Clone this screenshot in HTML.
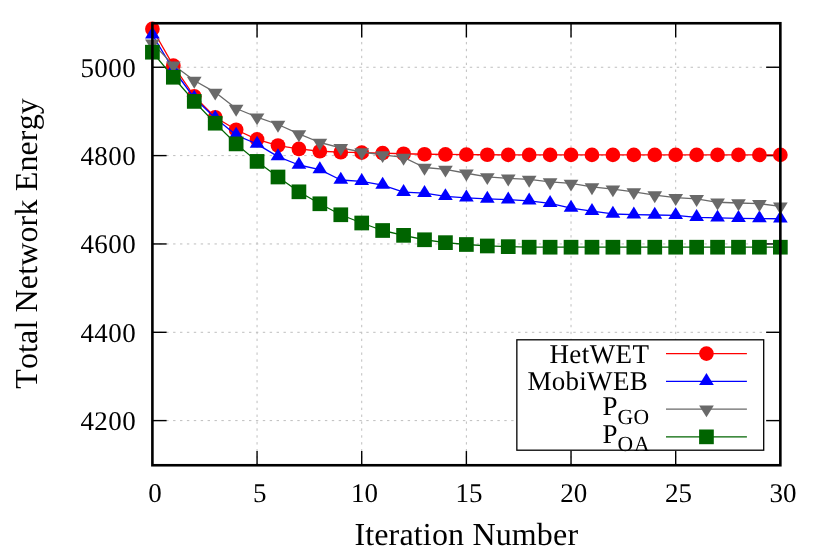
<!DOCTYPE html>
<html><head><meta charset="utf-8"><title>Total Network Energy vs Iteration Number</title>
<style>
html,body{margin:0;padding:0;background:#ffffff;}
body{width:830px;height:554px;overflow:hidden;font-family:"Liberation Serif",serif;}
svg{display:block;will-change:transform;}
text{font-kerning:none;font-variant-ligatures:none;text-rendering:geometricPrecision;}
</style></head><body>
<svg width="830" height="554" viewBox="0 0 830 554">
<rect width="830" height="554" fill="#ffffff"/>
<g stroke="#bebebe" stroke-width="1" stroke-dasharray="2.4 4.5" fill="none">
<line x1="152.4" y1="67.25" x2="780.35" y2="67.25"/>
<line x1="152.4" y1="155.6" x2="780.35" y2="155.6"/>
<line x1="152.4" y1="243.95" x2="780.35" y2="243.95"/>
<line x1="152.4" y1="332.3" x2="780.35" y2="332.3"/>
<line x1="152.4" y1="420.6" x2="780.35" y2="420.6"/>
<line x1="257.06" y1="465.25" x2="257.06" y2="23.25"/>
<line x1="361.72" y1="465.25" x2="361.72" y2="23.25"/>
<line x1="466.38" y1="465.25" x2="466.38" y2="23.25"/>
<line x1="571.03" y1="465.25" x2="571.03" y2="23.25"/>
<line x1="675.69" y1="465.25" x2="675.69" y2="23.25"/>
</g>
<g stroke="#000000" stroke-width="1.4" fill="none">
<line x1="152.4" y1="67.25" x2="166.6" y2="67.25"/>
<line x1="780.35" y1="67.25" x2="766.15" y2="67.25"/>
<line x1="152.4" y1="155.6" x2="166.6" y2="155.6"/>
<line x1="780.35" y1="155.6" x2="766.15" y2="155.6"/>
<line x1="152.4" y1="243.95" x2="166.6" y2="243.95"/>
<line x1="780.35" y1="243.95" x2="766.15" y2="243.95"/>
<line x1="152.4" y1="332.3" x2="166.6" y2="332.3"/>
<line x1="780.35" y1="332.3" x2="766.15" y2="332.3"/>
<line x1="152.4" y1="420.6" x2="166.6" y2="420.6"/>
<line x1="780.35" y1="420.6" x2="766.15" y2="420.6"/>
<line x1="257.06" y1="465.25" x2="257.06" y2="451.05"/>
<line x1="257.06" y1="23.25" x2="257.06" y2="37.45"/>
<line x1="361.72" y1="465.25" x2="361.72" y2="451.05"/>
<line x1="361.72" y1="23.25" x2="361.72" y2="37.45"/>
<line x1="466.38" y1="465.25" x2="466.38" y2="451.05"/>
<line x1="466.38" y1="23.25" x2="466.38" y2="37.45"/>
<line x1="571.03" y1="465.25" x2="571.03" y2="451.05"/>
<line x1="571.03" y1="23.25" x2="571.03" y2="37.45"/>
<line x1="675.69" y1="465.25" x2="675.69" y2="451.05"/>
<line x1="675.69" y1="23.25" x2="675.69" y2="37.45"/>
</g>
<polyline points="152.4,28.95 173.33,65.65 194.26,96.25 215.19,117.25 236.13,129.75 257.06,139.4 277.99,145.55 298.92,148.95 319.85,151.25 340.79,152.2 361.72,152.65 382.65,153.11 403.58,153.75 424.51,154.25 445.44,154.45 466.38,154.65 487.31,154.75 508.24,154.9 529.17,154.9 550.1,154.9 571.03,154.9 591.97,154.9 612.9,154.9 633.83,154.9 654.76,154.9 675.69,154.9 696.62,154.9 717.56,154.9 738.49,154.9 759.42,154.9 780.35,154.9" fill="none" stroke="#ff0000" stroke-width="1.3" stroke-linejoin="round"/>
<circle cx="152.4" cy="28.95" r="7.35" fill="#ff0000"/>
<circle cx="173.33" cy="65.65" r="7.35" fill="#ff0000"/>
<circle cx="194.26" cy="96.25" r="7.35" fill="#ff0000"/>
<circle cx="215.19" cy="117.25" r="7.35" fill="#ff0000"/>
<circle cx="236.13" cy="129.75" r="7.35" fill="#ff0000"/>
<circle cx="257.06" cy="139.4" r="7.35" fill="#ff0000"/>
<circle cx="277.99" cy="145.55" r="7.35" fill="#ff0000"/>
<circle cx="298.92" cy="148.95" r="7.35" fill="#ff0000"/>
<circle cx="319.85" cy="151.25" r="7.35" fill="#ff0000"/>
<circle cx="340.79" cy="152.2" r="7.35" fill="#ff0000"/>
<circle cx="361.72" cy="152.65" r="7.35" fill="#ff0000"/>
<circle cx="382.65" cy="153.11" r="7.35" fill="#ff0000"/>
<circle cx="403.58" cy="153.75" r="7.35" fill="#ff0000"/>
<circle cx="424.51" cy="154.25" r="7.35" fill="#ff0000"/>
<circle cx="445.44" cy="154.45" r="7.35" fill="#ff0000"/>
<circle cx="466.38" cy="154.65" r="7.35" fill="#ff0000"/>
<circle cx="487.31" cy="154.75" r="7.35" fill="#ff0000"/>
<circle cx="508.24" cy="154.9" r="7.35" fill="#ff0000"/>
<circle cx="529.17" cy="154.9" r="7.35" fill="#ff0000"/>
<circle cx="550.1" cy="154.9" r="7.35" fill="#ff0000"/>
<circle cx="571.03" cy="154.9" r="7.35" fill="#ff0000"/>
<circle cx="591.97" cy="154.9" r="7.35" fill="#ff0000"/>
<circle cx="612.9" cy="154.9" r="7.35" fill="#ff0000"/>
<circle cx="633.83" cy="154.9" r="7.35" fill="#ff0000"/>
<circle cx="654.76" cy="154.9" r="7.35" fill="#ff0000"/>
<circle cx="675.69" cy="154.9" r="7.35" fill="#ff0000"/>
<circle cx="696.62" cy="154.9" r="7.35" fill="#ff0000"/>
<circle cx="717.56" cy="154.9" r="7.35" fill="#ff0000"/>
<circle cx="738.49" cy="154.9" r="7.35" fill="#ff0000"/>
<circle cx="759.42" cy="154.9" r="7.35" fill="#ff0000"/>
<circle cx="780.35" cy="154.9" r="7.35" fill="#ff0000"/>
<polyline points="152.4,34.8 173.33,69.5 194.26,98 215.19,118 236.13,135.1 257.06,144.1 277.99,156.6 298.92,165 319.85,169.6 340.79,180 361.72,181.3 382.65,185.1 403.58,192.2 424.51,193.2 445.44,196.37 466.38,197.8 487.31,198.97 508.24,199.7 529.17,200.85 550.1,203.3 571.03,208.1 591.97,211.2 612.9,213.98 633.83,214.7 654.76,215 675.69,215.4 696.62,217.3 717.56,217.88 738.49,218.3 759.42,218.6 780.35,218.75" fill="none" stroke="#0000ff" stroke-width="1.3" stroke-linejoin="round"/>
<path d="M152.4 26.57L145.05 38.47L159.75 38.47Z" fill="#0000ff"/>
<path d="M173.33 61.27L165.98 73.17L180.68 73.17Z" fill="#0000ff"/>
<path d="M194.26 89.77L186.91 101.67L201.61 101.67Z" fill="#0000ff"/>
<path d="M215.19 109.77L207.84 121.67L222.54 121.67Z" fill="#0000ff"/>
<path d="M236.13 126.87L228.78 138.78L243.48 138.78Z" fill="#0000ff"/>
<path d="M257.06 135.87L249.71 147.78L264.41 147.78Z" fill="#0000ff"/>
<path d="M277.99 148.37L270.64 160.28L285.34 160.28Z" fill="#0000ff"/>
<path d="M298.92 156.77L291.57 168.68L306.27 168.68Z" fill="#0000ff"/>
<path d="M319.85 161.37L312.5 173.28L327.2 173.28Z" fill="#0000ff"/>
<path d="M340.79 171.77L333.44 183.68L348.14 183.68Z" fill="#0000ff"/>
<path d="M361.72 173.07L354.37 184.98L369.07 184.98Z" fill="#0000ff"/>
<path d="M382.65 176.87L375.3 188.78L390 188.78Z" fill="#0000ff"/>
<path d="M403.58 183.97L396.23 195.88L410.93 195.88Z" fill="#0000ff"/>
<path d="M424.51 184.97L417.16 196.88L431.86 196.88Z" fill="#0000ff"/>
<path d="M445.44 188.14L438.09 200.05L452.79 200.05Z" fill="#0000ff"/>
<path d="M466.38 189.57L459.02 201.48L473.73 201.48Z" fill="#0000ff"/>
<path d="M487.31 190.74L479.96 202.65L494.66 202.65Z" fill="#0000ff"/>
<path d="M508.24 191.47L500.89 203.38L515.59 203.38Z" fill="#0000ff"/>
<path d="M529.17 192.62L521.82 204.53L536.52 204.53Z" fill="#0000ff"/>
<path d="M550.1 195.07L542.75 206.98L557.45 206.98Z" fill="#0000ff"/>
<path d="M571.03 199.87L563.68 211.78L578.38 211.78Z" fill="#0000ff"/>
<path d="M591.97 202.97L584.62 214.88L599.32 214.88Z" fill="#0000ff"/>
<path d="M612.9 205.75L605.55 217.66L620.25 217.66Z" fill="#0000ff"/>
<path d="M633.83 206.47L626.48 218.38L641.18 218.38Z" fill="#0000ff"/>
<path d="M654.76 206.77L647.41 218.68L662.11 218.68Z" fill="#0000ff"/>
<path d="M675.69 207.17L668.34 219.08L683.04 219.08Z" fill="#0000ff"/>
<path d="M696.62 209.07L689.27 220.98L703.97 220.98Z" fill="#0000ff"/>
<path d="M717.56 209.65L710.21 221.56L724.91 221.56Z" fill="#0000ff"/>
<path d="M738.49 210.07L731.14 221.98L745.84 221.98Z" fill="#0000ff"/>
<path d="M759.42 210.37L752.07 222.28L766.77 222.28Z" fill="#0000ff"/>
<path d="M780.35 210.52L773 222.43L787.7 222.43Z" fill="#0000ff"/>
<polyline points="152.4,43.1 173.33,65.1 194.26,80.5 215.19,92.35 236.13,108.5 257.06,117.1 277.99,124.5 298.92,133.9 319.85,142.5 340.79,147.8 361.72,152 382.65,154.86 403.58,157.4 424.51,167.5 445.44,169.35 466.38,173.25 487.31,176.86 508.24,178.3 529.17,179.46 550.1,181.9 571.03,183.37 591.97,186.9 612.9,189.05 633.83,191.86 654.76,195.04 675.69,197.65 696.62,198.8 717.56,202.27 738.49,203 759.42,203.7 780.35,206.3" fill="none" stroke="#696969" stroke-width="1.3" stroke-linejoin="round"/>
<path d="M152.4 51.33L145.05 39.43L159.75 39.43Z" fill="#696969"/>
<path d="M173.33 73.33L165.98 61.42L180.68 61.42Z" fill="#696969"/>
<path d="M194.26 88.73L186.91 76.83L201.61 76.83Z" fill="#696969"/>
<path d="M215.19 100.58L207.84 88.67L222.54 88.67Z" fill="#696969"/>
<path d="M236.13 116.73L228.78 104.83L243.48 104.83Z" fill="#696969"/>
<path d="M257.06 125.33L249.71 113.42L264.41 113.42Z" fill="#696969"/>
<path d="M277.99 132.73L270.64 120.83L285.34 120.83Z" fill="#696969"/>
<path d="M298.92 142.13L291.57 130.22L306.27 130.22Z" fill="#696969"/>
<path d="M319.85 150.73L312.5 138.82L327.2 138.82Z" fill="#696969"/>
<path d="M340.79 156.03L333.44 144.12L348.14 144.12Z" fill="#696969"/>
<path d="M361.72 160.23L354.37 148.32L369.07 148.32Z" fill="#696969"/>
<path d="M382.65 163.09L375.3 151.19L390 151.19Z" fill="#696969"/>
<path d="M403.58 165.63L396.23 153.72L410.93 153.72Z" fill="#696969"/>
<path d="M424.51 175.73L417.16 163.82L431.86 163.82Z" fill="#696969"/>
<path d="M445.44 177.58L438.09 165.67L452.79 165.67Z" fill="#696969"/>
<path d="M466.38 181.48L459.02 169.57L473.73 169.57Z" fill="#696969"/>
<path d="M487.31 185.09L479.96 173.19L494.66 173.19Z" fill="#696969"/>
<path d="M508.24 186.53L500.89 174.62L515.59 174.62Z" fill="#696969"/>
<path d="M529.17 187.69L521.82 175.78L536.52 175.78Z" fill="#696969"/>
<path d="M550.1 190.13L542.75 178.22L557.45 178.22Z" fill="#696969"/>
<path d="M571.03 191.6L563.68 179.69L578.38 179.69Z" fill="#696969"/>
<path d="M591.97 195.13L584.62 183.22L599.32 183.22Z" fill="#696969"/>
<path d="M612.9 197.28L605.55 185.38L620.25 185.38Z" fill="#696969"/>
<path d="M633.83 200.09L626.48 188.19L641.18 188.19Z" fill="#696969"/>
<path d="M654.76 203.27L647.41 191.36L662.11 191.36Z" fill="#696969"/>
<path d="M675.69 205.88L668.34 193.97L683.04 193.97Z" fill="#696969"/>
<path d="M696.62 207.03L689.27 195.12L703.97 195.12Z" fill="#696969"/>
<path d="M717.56 210.5L710.21 198.59L724.91 198.59Z" fill="#696969"/>
<path d="M738.49 211.23L731.14 199.32L745.84 199.32Z" fill="#696969"/>
<path d="M759.42 211.93L752.07 200.02L766.77 200.02Z" fill="#696969"/>
<path d="M780.35 214.53L773 202.62L787.7 202.62Z" fill="#696969"/>
<polyline points="152.4,52.2 173.33,77.25 194.26,101.4 215.19,123.2 236.13,143.9 257.06,161.4 277.99,177 298.92,191.8 319.85,203.77 340.79,214.76 361.72,223 382.65,230.5 403.58,235.35 424.51,239.76 445.44,242.65 466.38,244.5 487.31,245.97 508.24,246.65 529.17,247.17 550.1,247.2 571.03,247.2 591.97,247.2 612.9,247.2 633.83,247.2 654.76,247.2 675.69,247.2 696.62,247.2 717.56,247.2 738.49,247.2 759.42,247.2 780.35,247.2" fill="none" stroke="#006400" stroke-width="1.3" stroke-linejoin="round"/>
<rect x="145.05" y="44.85" width="14.7" height="14.7" fill="#006400"/>
<rect x="165.98" y="69.9" width="14.7" height="14.7" fill="#006400"/>
<rect x="186.91" y="94.05" width="14.7" height="14.7" fill="#006400"/>
<rect x="207.84" y="115.85" width="14.7" height="14.7" fill="#006400"/>
<rect x="228.78" y="136.55" width="14.7" height="14.7" fill="#006400"/>
<rect x="249.71" y="154.05" width="14.7" height="14.7" fill="#006400"/>
<rect x="270.64" y="169.65" width="14.7" height="14.7" fill="#006400"/>
<rect x="291.57" y="184.45" width="14.7" height="14.7" fill="#006400"/>
<rect x="312.5" y="196.42" width="14.7" height="14.7" fill="#006400"/>
<rect x="333.44" y="207.41" width="14.7" height="14.7" fill="#006400"/>
<rect x="354.37" y="215.65" width="14.7" height="14.7" fill="#006400"/>
<rect x="375.3" y="223.15" width="14.7" height="14.7" fill="#006400"/>
<rect x="396.23" y="228" width="14.7" height="14.7" fill="#006400"/>
<rect x="417.16" y="232.41" width="14.7" height="14.7" fill="#006400"/>
<rect x="438.09" y="235.3" width="14.7" height="14.7" fill="#006400"/>
<rect x="459.02" y="237.15" width="14.7" height="14.7" fill="#006400"/>
<rect x="479.96" y="238.62" width="14.7" height="14.7" fill="#006400"/>
<rect x="500.89" y="239.3" width="14.7" height="14.7" fill="#006400"/>
<rect x="521.82" y="239.82" width="14.7" height="14.7" fill="#006400"/>
<rect x="542.75" y="239.85" width="14.7" height="14.7" fill="#006400"/>
<rect x="563.68" y="239.85" width="14.7" height="14.7" fill="#006400"/>
<rect x="584.62" y="239.85" width="14.7" height="14.7" fill="#006400"/>
<rect x="605.55" y="239.85" width="14.7" height="14.7" fill="#006400"/>
<rect x="626.48" y="239.85" width="14.7" height="14.7" fill="#006400"/>
<rect x="647.41" y="239.85" width="14.7" height="14.7" fill="#006400"/>
<rect x="668.34" y="239.85" width="14.7" height="14.7" fill="#006400"/>
<rect x="689.27" y="239.85" width="14.7" height="14.7" fill="#006400"/>
<rect x="710.21" y="239.85" width="14.7" height="14.7" fill="#006400"/>
<rect x="731.14" y="239.85" width="14.7" height="14.7" fill="#006400"/>
<rect x="752.07" y="239.85" width="14.7" height="14.7" fill="#006400"/>
<rect x="773" y="239.85" width="14.7" height="14.7" fill="#006400"/>
<rect x="516.85" y="339.8" width="246.85" height="110.4" fill="#ffffff" stroke="#000000" stroke-width="1.3"/>
<line x1="666" y1="353.6" x2="746.9" y2="353.6" stroke="#ff0000" stroke-width="1.3"/>
<circle cx="706.45" cy="353.6" r="7.35" fill="#ff0000"/>
<line x1="666" y1="381.35" x2="746.9" y2="381.35" stroke="#0000ff" stroke-width="1.3"/>
<path d="M706.45 373.12L699.1 385.03L713.8 385.03Z" fill="#0000ff"/>
<line x1="666" y1="409.1" x2="746.9" y2="409.1" stroke="#696969" stroke-width="1.3"/>
<path d="M706.45 417.33L699.1 405.43L713.8 405.43Z" fill="#696969"/>
<line x1="666" y1="436.85" x2="746.9" y2="436.85" stroke="#006400" stroke-width="1.3"/>
<rect x="699.1" y="429.5" width="14.7" height="14.7" fill="#006400"/>
<g font-family="'Liberation Serif', serif" fill="#000000" font-size="27" text-anchor="end">
<text x="649.4" y="363.2" letter-spacing="0.42">HetWET</text>
<text x="648.0" y="390.3" letter-spacing="0.3">MobiWEB</text>
<text x="602.5" y="415.4" text-anchor="start">P<tspan font-size="21.6" dy="8.2" letter-spacing="0.4">GO</tspan></text>
<text x="602.5" y="443.1" text-anchor="start">P<tspan font-size="21.6" dy="8.2" letter-spacing="0.9">OA</tspan></text>
</g>
<rect x="152.4" y="23.25" width="627.95" height="442" fill="none" stroke="#000000" stroke-width="2.6"/>
<g font-family="'Liberation Serif', serif" fill="#000000" font-size="27" text-anchor="end">
<text x="136.2" y="76.65" letter-spacing="0.45">5000</text>
<text x="136.2" y="165" letter-spacing="0.45">4800</text>
<text x="136.2" y="253.35" letter-spacing="0.45">4600</text>
<text x="136.2" y="341.7" letter-spacing="0.45">4400</text>
<text x="136.2" y="430" letter-spacing="0.45">4200</text>
</g>
<g font-family="'Liberation Serif', serif" fill="#000000" font-size="27" text-anchor="middle">
<text x="155.1" y="502.3">0</text>
<text x="259.76" y="502.3">5</text>
<text x="364.42" y="502.3">10</text>
<text x="469.07" y="502.3">15</text>
<text x="573.73" y="502.3">20</text>
<text x="678.39" y="502.3">25</text>
<text x="783.05" y="502.3">30</text>
</g>
<g font-family="'Liberation Serif', serif" fill="#000000" font-size="32" text-anchor="middle">
<text x="466.3" y="545.2" letter-spacing="0.16">Iteration Number</text>
<text transform="translate(36.6 243.4) rotate(-90)" x="0" y="0" letter-spacing="0.14">Total Network Energy</text>
</g>
</svg>
</body></html>
